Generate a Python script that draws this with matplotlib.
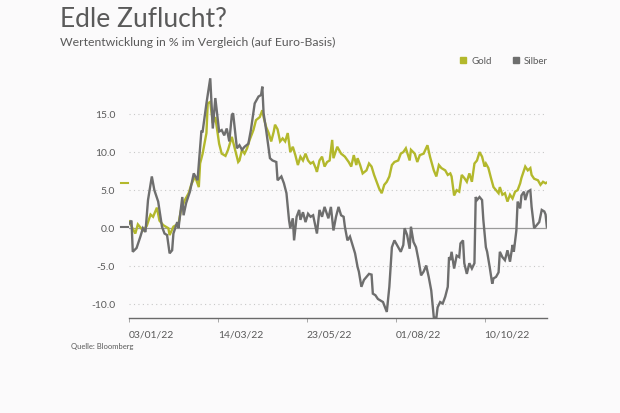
import datetime as dt
import numpy as np
import matplotlib
matplotlib.use('Agg')
import matplotlib.pyplot as plt
import matplotlib.dates as mdates

plt.rcParams['font.family'] = ['Lato', 'DejaVu Sans']

START = dt.date(2022, 1, 3)

# Gold: Tage seit 03/01/22 und Wertentwicklung in %
gold_days = [0, 5, 7, 11, 14, 17, 19, 22, 24, 27, 31, 32, 35, 39, 41, 44, 47, 49, 52, 55,
             56, 58, 61, 62, 64, 66, 68, 71, 73, 76, 78, 81, 83, 86, 87, 89, 91, 93, 95, 98,
             100, 103, 105, 106, 108, 110, 112, 114, 115, 117, 119, 121, 123, 125, 127, 129, 131, 133, 135, 137,
             139, 141, 143, 145, 147, 148, 150, 152, 154, 156, 158, 160, 161, 164, 167, 170, 173, 175, 177, 179,
             180, 182, 184, 187, 189, 191, 193, 195, 197, 199, 201, 203, 205, 207, 209, 212, 214, 216, 218, 221,
             222, 225, 227, 229, 232, 235, 237, 240, 242, 244, 246, 249, 251, 253, 254, 256, 258, 260, 262, 264,
             266, 268, 270, 272, 274, 276, 278, 280, 281, 283, 285, 287, 289, 291, 292, 294, 296, 298, 300, 302,
             304, 306, 308, 309, 312, 314, 316, 317, 319, 322, 324, 326, 328, 329]
gold_vals = [0.9, -0.7, 0.5, -0.3, 0.3, 1.8, 1.5, 2.7, 1.0, 0.4, 0.0, -0.9, 0.2, 0.6, 2.4, 3.7, 4.6, 5.7, 6.8, 5.4,
             8.5, 9.8, 12.5, 16.4, 16.6, 13.8, 14.6, 11.1, 9.8, 9.5, 10.3, 12.0, 10.7, 8.7, 8.9, 10.3, 9.8, 10.5, 11.6, 12.9,
             14.2, 14.6, 15.5, 14.6, 13.3, 12.5, 11.4, 12.7, 13.6, 13.0, 11.4, 11.8, 11.4, 12.5, 10.0, 10.7, 9.6, 8.3, 9.4, 8.9,
             9.8, 8.9, 8.5, 8.7, 7.9, 7.4, 8.9, 9.4, 8.1, 8.7, 8.9, 11.6, 9.2, 10.7, 9.8, 9.4, 8.7, 8.1, 9.6, 8.3,
             9.2, 8.3, 7.2, 7.6, 8.5, 8.1, 7.0, 6.1, 5.2, 4.6, 5.7, 6.1, 6.8, 8.3, 8.7, 8.9, 9.8, 10.0, 10.5, 8.9,
             10.3, 9.8, 8.7, 9.6, 9.8, 10.9, 9.4, 7.6, 6.8, 8.3, 7.9, 7.6, 7.0, 7.2, 6.8, 4.3, 5.0, 4.8, 7.0, 6.6,
             6.1, 7.2, 6.1, 8.5, 8.9, 10.0, 9.4, 8.1, 8.5, 7.9, 6.6, 5.4, 5.0, 4.6, 5.4, 4.4, 4.6, 3.5, 4.4, 3.9,
             4.8, 5.0, 5.9, 6.6, 8.1, 7.6, 7.9, 7.0, 6.5, 6.3, 5.7, 6.1, 5.9, 6.0]

# Silber
silver_days = [0, 2, 3, 6, 9, 11, 13, 15, 18, 20, 23, 26, 28, 30, 32, 34, 35, 38, 39, 42,
               43, 45, 48, 51, 54, 57, 58, 61, 64, 66, 68, 71, 73, 75, 77, 79, 81, 82, 85, 87,
               89, 91, 94, 96, 99, 102, 104, 105, 106, 108, 111, 113, 116, 117, 120, 122, 124, 126, 127, 129,
               130, 132, 134, 135, 137, 139, 141, 143, 145, 148, 150, 152, 154, 157, 159, 161, 163, 165, 167, 169,
               170, 172, 174, 176, 178, 180, 181, 183, 185, 187, 189, 191, 192, 194, 196, 198, 200, 203, 205, 207,
               209, 212, 214, 216, 217, 219, 221, 222, 224, 226, 228, 230, 232, 234, 236, 238, 240, 242, 243, 245,
               247, 249, 251, 252, 253, 254, 256, 258, 260, 261, 263, 264, 266, 268, 270, 272, 273, 274, 276, 278,
               279, 281, 282, 284, 286, 287, 289, 291, 292, 294, 296, 298, 300, 302, 303, 305, 306, 308, 309, 311,
               312, 314, 316, 317, 319, 321, 323, 325, 327, 328, 329]
silver_vals = [0.6, 1.0, -3.1, -2.6, -1.1, 0.0, -0.5, 3.7, 6.8, 5.0, 3.5, 0.2, -0.7, -0.9, -3.3, -2.9, -0.7, 0.8, 0.0, 4.1,
               1.7, 3.3, 4.8, 7.2, 6.3, 12.7, 12.7, 16.4, 19.7, 13.1, 17.1, 12.7, 12.9, 12.2, 13.1, 11.4, 14.9, 15.1, 10.5, 10.9,
               10.3, 10.7, 11.1, 12.9, 16.4, 17.3, 17.5, 18.6, 15.1, 12.9, 9.2, 8.9, 8.7, 6.3, 6.8, 5.9, 4.6, 1.1, 0.0, 1.3,
               -1.6, 1.5, 2.4, 1.1, 2.1, 0.8, 1.9, 1.5, 1.7, -0.7, 2.4, 1.5, 2.8, 1.3, 2.8, -0.3, 1.5, 2.8, 1.7, 1.5,
               0.2, -1.6, -1.1, -2.2, -3.3, -5.1, -5.7, -7.7, -6.8, -6.4, -6.0, -6.1, -8.6, -8.8, -9.3, -9.5, -9.7, -11.0, -7.7, -2.5,
               -1.6, -2.5, -3.1, -2.2, 0.0, -0.9, -2.7, 0.2, -1.8, -2.5, -4.2, -6.2, -5.7, -4.9, -6.4, -8.2, -11.7, -11.8, -10.4, -9.7,
               -9.9, -9.0, -7.7, -3.8, -4.2, -3.1, -5.3, -3.6, -3.8, -2.0, -1.6, -4.6, -6.0, -4.6, -5.3, -4.6, 4.1, 3.7, 4.1, 3.7,
               1.1, -2.5, -3.1, -5.1, -7.3, -6.6, -6.4, -5.8, -3.1, -3.8, -4.2, -2.9, -4.4, -2.2, -3.1, -0.3, 3.5, 2.6, 4.3, 4.8,
               3.7, 4.8, 5.0, 2.8, 0.0, 0.4, 0.8, 2.4, 2.2, 1.8, 0.2]

tick_dates = ['03/01/22', '14/03/22', '23/05/22', '01/08/22', '10/10/22']
y_ticks = [-10, -5, 0, 5, 10, 15]

GOLD = '#b3b82c'
SILVER = '#6e6e6e'
BG = '#fbfafb'
TXT = '#5a5a5a'


def to_dates(days):
    return [START + dt.timedelta(days=d) for d in days]


gold_x = to_dates(gold_days)
silver_x = to_dates(silver_days)

fig = plt.figure(figsize=(6.2, 4.13), dpi=100, facecolor=BG)
ax = fig.add_axes([0.208, 0.230, 0.674, 0.586])
ax.set_facecolor(BG)

ax.set_xlim(gold_x[0], gold_x[-1])
ax.set_ylim(-11.8, 20)

for v in y_ticks:
    if v == 0:
        ax.axhline(0, color='#9a9a9a', lw=0.9, zorder=1)
    else:
        ax.axhline(v, color='#c8c8c8', lw=0.8, ls=(0, (1, 3)), zorder=1)

ax.plot(gold_x, gold_vals, color=GOLD, lw=1.7, zorder=3, solid_joinstyle='miter')
ax.plot(silver_x, silver_vals, color=SILVER, lw=1.7, zorder=4, solid_joinstyle='miter')

# Markierung des letzten Werts links an der Achse
ax.plot([-0.018, -0.003], [gold_vals[-1]] * 2, color=GOLD, lw=1.5,
        transform=ax.get_yaxis_transform(), clip_on=False)
ax.plot([-0.018, -0.003], [silver_vals[-1]] * 2, color=SILVER, lw=1.5,
        transform=ax.get_yaxis_transform(), clip_on=False)

for s in ['top', 'right', 'left']:
    ax.spines[s].set_visible(False)
ax.spines['bottom'].set_color('#6a6a6a')
ax.spines['bottom'].set_linewidth(1.0)

xt = [dt.datetime.strptime(t, '%d/%m/%y').date() for t in tick_dates]
ax.set_xticks(xt)
ax.set_xticklabels(tick_dates, ha='left')
ax.tick_params(axis='x', length=3, width=0.6, color='#9a9a9a', labelcolor=TXT,
               labelsize=7.5, pad=6)
ax.set_yticks(y_ticks)
ax.set_yticklabels(['%.1f' % v for v in y_ticks])
ax.tick_params(axis='y', length=0, labelsize=7.5, labelcolor=TXT, pad=10)

fig.text(0.097, 0.953, 'Edle Zuflucht?', fontsize=19, color='#5a5a5a', va='center', ha='left')
fig.text(0.097, 0.898, 'Wertentwicklung in % im Vergleich (auf Euro-Basis)', fontsize=8.8,
         color='#5a5a5a', va='center', ha='left')

# Legende
fig.patches.append(plt.Rectangle((460 / 620, 1 - 63 / 413), 5.5 / 620, 6 / 413, color=GOLD,
                                 transform=fig.transFigure, figure=fig))
fig.text(471 / 620, 1 - 61 / 413, 'Gold', fontsize=7, color=TXT, va='center', ha='left')
fig.patches.append(plt.Rectangle((513 / 620, 1 - 63 / 413), 5.5 / 620, 6 / 413, color=SILVER,
                                 transform=fig.transFigure, figure=fig))
fig.text(524 / 620, 1 - 61 / 413, 'Silber', fontsize=7, color=TXT, va='center', ha='left')

fig.text(71 / 620, 1 - 347 / 413, 'Quelle: Bloomberg', fontsize=5.5, color=TXT, va='center', ha='left')

fig.savefig('out.png', dpi=100, facecolor=BG)
